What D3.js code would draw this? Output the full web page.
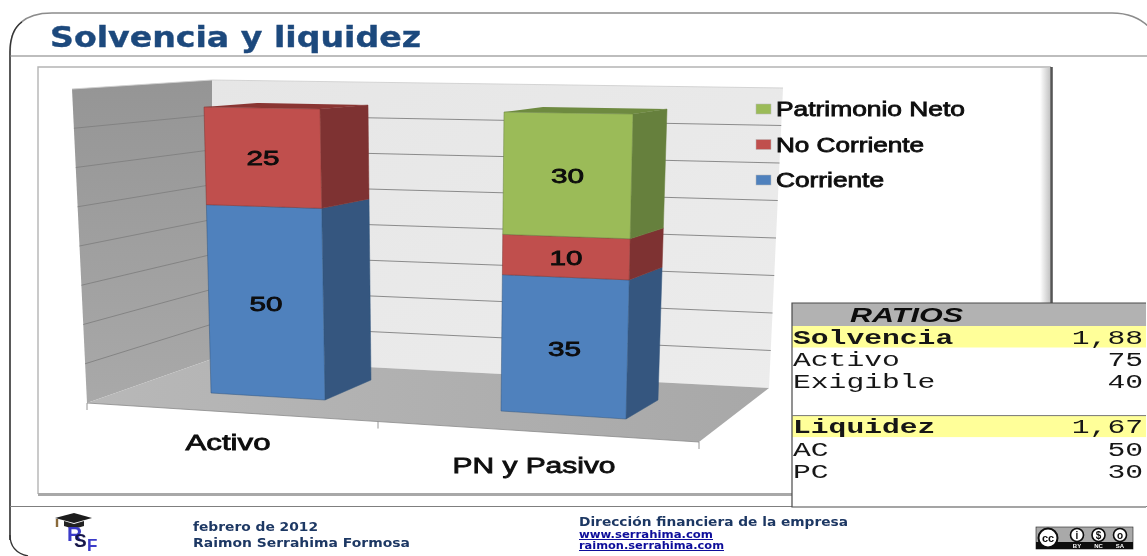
<!DOCTYPE html>
<html>
<head>
<meta charset="utf-8">
<style>
    html, body { margin: 0; padding: 0; background: #fff; }
    svg { display: block; }
</style>
<script src="https://cdn.jsdelivr.net/npm/d3@7"></script>
</head>
<body>
<script>
// values
const categories = ["Activo", "PN y Pasivo"];
const seriesNames = ["Corriente", "No Corriente", "Patrimonio Neto"];
const corriente = [50, 35];
const noCorriente = [25, 10];
const patrimonioNeto = [0, 30];
const axisTicks = [0, 10, 20, 30, 40, 50, 60, 70, 80];

const ratioLabels = ["Solvencia", "Activo", "Exigible", "", "Liquidez", "AC", "PC"];
const ratioValues = ["1,88", "75", "40", "", "1,67", "50", "30"];
const ratioHighlight = [true, false, false, false, true, false, false];

const footerLeft = ["febrero de 2012", "Raimon Serrahima Formosa"];
const footerRight = ["Dirección financiera de la empresa", "www.serrahima.com", "raimon.serrahima.com"];
const ccLabels = ["BY", "NC", "SA"];

const frontColors = ["#4f81bd", "#c0504d", "#9bbb59"];
const sideColors = ["#34577f", "#7e3331", "#66803c"];
const topColors = ["#34577f", "#8a3533", "#6e8a40"];

// perspective frame of each bar: the corner at value 0 and at the top of the stack
const barFrames = [
    {
        fl: [[211, 393], [204, 107]], fr: [[325, 400], [320, 109]],
        br: [[371, 380], [368, 105]], bl: [[262, 372], [257, 103]]
    },
    {
        fl: [[501, 411], [504, 112]], fr: [[626, 419], [633, 114]],
        br: [[658, 400], [667, 109]], bl: [[540, 392], [543, 107]]
    }
];
// chart walls: [bottom, top] of the three upright edges
const wallFront = [[87, 403], [72, 89]];
const wallBackLeft = [[212, 359], [212, 80]];
const wallBackRight = [[769, 388], [783, 88]];
const floorFrontRight = [699, 442];
const midTickX = 378;

const svg = d3.select("body").append("svg")
    .attr("width", 1147)
    .attr("height", 556)
    .style("background-color", "#ffffff")
    .style("font-family", "'Liberation Sans', Arial, sans-serif");

const defs = svg.append("defs");
function linearGrad(id, x1, y1, x2, y2, stops) {
    const g = defs.append("linearGradient").attr("id", id)
        .attr("x1", x1).attr("y1", y1).attr("x2", x2).attr("y2", y2);
    stops.forEach(s => g.append("stop").attr("offset", s[0]).attr("stop-color", s[1]));
}
linearGrad("wallLeft", 0, 0, 0, 1, [[0, "#959595"], [1, "#a9a9a9"]]);
linearGrad("wallBack", 0, 0, 1, 1, [[0, "#e6e6e6"], [1, "#ececec"]]);
linearGrad("floor", 0, 0, 1, 0, [[0, "#b8b8b8"], [1, "#a8a8a8"]]);
linearGrad("shadow", 0, 0, 1, 0, [[0, "#ffffff"], [1, "#c4c4c4"]]);
defs.append("filter").attr("id", "soft")
    .append("feGaussianBlur").attr("stdDeviation", 0.4);

const page = svg.append("g").attr("filter", "url(#soft)");

// slide frame
page.append("path")
    .attr("d", "M10,540 L10,52 Q10,13 52,13 L1112,13 Q1135,13 1149,27")
    .attr("fill", "none").attr("stroke", "#8c8c8c").attr("stroke-width", 1.6);
page.append("path")
    .attr("d", "M10,540 L10,52 Q10,30 22,22")
    .attr("fill", "none").attr("stroke", "#333333").attr("stroke-width", 1.3);
page.append("path")
    .attr("d", "M10,535 Q10,552 28,556")
    .attr("fill", "none").attr("stroke", "#333333").attr("stroke-width", 1.3);
page.selectAll("line.rule")
    .data([56, 506.5])
    .enter()
    .append("line")
    .attr("class", "rule")
    .attr("x1", 10).attr("x2", 1147)
    .attr("y1", d => d).attr("y2", d => d)
    .attr("stroke", "#7f7f7f").attr("stroke-width", 1.2);

page.append("text")
    .attr("x", 50).attr("y", 47)
    .attr("font-family", "'DejaVu Sans'")
    .attr("font-weight", "bold")
    .attr("font-size", 28)
    .attr("fill", "#1f497d")
    .attr("stroke", "#1f497d")
    .attr("stroke-width", 0.4)
    .attr("textLength", 371)
    .attr("lengthAdjust", "spacingAndGlyphs")
    .text("Solvencia y liquidez");

// chart panel
page.append("rect")
    .attr("x", 1040).attr("y", 68).attr("width", 10).attr("height", 426)
    .attr("fill", "url(#shadow)");
page.append("path")
    .attr("d", "M38,494 L38,67 L1051,67")
    .attr("fill", "none").attr("stroke", "#b4b4b4").attr("stroke-width", 1.4);
page.append("line")
    .attr("x1", 38).attr("x2", 1051).attr("y1", 494.5).attr("y2", 494.5)
    .attr("stroke", "#a8a8a8").attr("stroke-width", 3);
page.append("line")
    .attr("x1", 1051.5).attr("x2", 1051.5).attr("y1", 67).attr("y2", 304)
    .attr("stroke", "#555555").attr("stroke-width", 2.6);

// scale along one upright edge, from its corners
function edgeScale(edge, domain, exponent) {
    const sx = d3.scalePow().exponent(exponent).domain(domain).range([edge[0][0], edge[1][0]]);
    const sy = d3.scalePow().exponent(exponent).domain(domain).range([edge[0][1], edge[1][1]]);
    return v => [sx(v), sy(v)];
}
const poly = pts => pts.map(p => p.join(",")).join(" ");

// walls and floor
const wallDomain = d3.extent(axisTicks);
const onFront = edgeScale(wallFront, wallDomain, 1);
const onBackLeft = edgeScale(wallBackLeft, wallDomain, 1);
const onBackRight = edgeScale(wallBackRight, wallDomain, 1);

page.append("polygon")
    .attr("points", poly([onFront(0), onFront(80), onBackLeft(80), onBackLeft(0)]))
    .attr("fill", "url(#wallLeft)");
page.append("polygon")
    .attr("points", poly([onBackLeft(0), onBackLeft(80), onBackRight(80), onBackRight(0)]))
    .attr("fill", "url(#wallBack)");
page.append("polygon")
    .attr("points", poly([onFront(0), onBackLeft(0), onBackRight(0), floorFrontRight]))
    .attr("fill", "url(#floor)");

const gridTicks = axisTicks.slice(1);
page.selectAll("polyline.grid")
    .data(gridTicks)
    .enter()
    .append("polyline")
    .attr("class", "grid")
    .attr("points", d => poly([onFront(d), onBackLeft(d), onBackRight(d)]))
    .attr("fill", "none")
    .attr("stroke", d => d === 80 ? "#d0d0d0" : "#808080")
    .attr("stroke-width", 0.9);

// axis ticks under the front floor edge
const frontEdgeX = d3.scaleLinear().domain([0, 1, 2]).range([onFront(0)[0], midTickX, floorFrontRight[0]]);
const frontEdgeY = d3.scaleLinear().domain([onFront(0)[0], floorFrontRight[0]]).range([onFront(0)[1], floorFrontRight[1]]);
page.append("line")
    .attr("x1", frontEdgeX(0)).attr("y1", frontEdgeY(frontEdgeX(0)))
    .attr("x2", frontEdgeX(2)).attr("y2", frontEdgeY(frontEdgeX(2)))
    .attr("stroke", "#8a8a8a").attr("stroke-width", 0.8);
page.selectAll("line.tick")
    .data(d3.range(categories.length + 1))
    .enter()
    .append("line")
    .attr("class", "tick")
    .attr("x1", d => frontEdgeX(d)).attr("x2", d => frontEdgeX(d))
    .attr("y1", d => frontEdgeY(frontEdgeX(d))).attr("y2", d => frontEdgeY(frontEdgeX(d)) + 7)
    .attr("stroke", "#8a8a8a").attr("stroke-width", 0.9);

// stacked bars
const table = categories.map((c, i) => ({
    category: c,
    [seriesNames[0]]: corriente[i],
    [seriesNames[1]]: noCorriente[i],
    [seriesNames[2]]: patrimonioNeto[i]
}));
const stacked = d3.stack().keys(seriesNames)(table);
const stackMax = d3.max(stacked, s => d3.max(s, d => d[1]));

categories.forEach((c, i) => {
    const f = barFrames[i];
    const fl = edgeScale(f.fl, [0, stackMax], 1.03);
    const fr = edgeScale(f.fr, [0, stackMax], 1.03);
    const br = edgeScale(f.br, [0, stackMax], 1.03);
    const bl = edgeScale(f.bl, [0, stackMax], 1.03);
    const bar = page.append("g").attr("class", "bar");

    const parts = stacked
        .map((s, k) => ({ k: k, y0: s[i][0], y1: s[i][1] }))
        .filter(d => d.y1 > d.y0);

    bar.selectAll("polygon.side")
        .data(parts)
        .enter()
        .append("polygon")
        .attr("class", "side")
        .attr("points", d => poly([fr(d.y0), fr(d.y1), br(d.y1), br(d.y0)]))
        .attr("fill", d => sideColors[d.k])
        .attr("stroke", d => sideColors[d.k])
        .attr("stroke-width", 0.5);
    bar.selectAll("polygon.front")
        .data(parts)
        .enter()
        .append("polygon")
        .attr("class", "front")
        .attr("points", d => poly([fl(d.y0), fl(d.y1), fr(d.y1), fr(d.y0)]))
        .attr("fill", d => frontColors[d.k])
        .attr("stroke", d => sideColors[d.k])
        .attr("stroke-width", 0.5);

    const last = parts[parts.length - 1];
    bar.append("polygon")
        .attr("points", poly([fl(last.y1), bl(last.y1), br(last.y1), fr(last.y1)]))
        .attr("fill", topColors[last.k]);

    bar.selectAll("text")
        .data(parts)
        .enter()
        .append("text")
        .attr("x", d => (fl((d.y0 + d.y1) / 2)[0] + fr((d.y0 + d.y1) / 2)[0]) / 2)
        .attr("y", d => (fl((d.y0 + d.y1) / 2)[1] + fr((d.y0 + d.y1) / 2)[1]) / 2 + 8)
        .attr("text-anchor", "middle")
        .attr("font-size", 21)
        .attr("fill", "#0b0b0b")
        .attr("stroke", "#0b0b0b")
        .attr("stroke-width", 0.8)
        .attr("textLength", 33)
        .attr("lengthAdjust", "spacingAndGlyphs")
        .text(d => d.y1 - d.y0);
});

// category labels
const labelX = d3.scalePoint().domain(categories).range([228, 534]);
const labelY = d3.scaleLinear().domain([0, 1]).range([450, 473]);
const categoryWidths = [85, 163];
page.selectAll("text.category")
    .data(categories)
    .enter()
    .append("text")
    .attr("class", "category")
    .attr("x", d => labelX(d))
    .attr("y", (d, i) => labelY(i))
    .attr("text-anchor", "middle")
    .attr("font-size", 22)
    .attr("fill", "#0b0b0b")
    .attr("stroke", "#0b0b0b")
    .attr("stroke-width", 0.8)
    .attr("textLength", (d, i) => categoryWidths[i])
    .attr("lengthAdjust", "spacingAndGlyphs")
    .text(d => d);

// legend, top series first
const legendOrder = seriesNames.map((d, i) => i).reverse();
const legendY = d3.scalePoint().domain(legendOrder).range([109, 180]);
const legendWidths = [108, 148, 189];
const legend = page.selectAll("g.legend")
    .data(legendOrder)
    .enter()
    .append("g")
    .attr("class", "legend")
    .attr("transform", d => "translate(756," + legendY(d) + ")");
legend.append("rect")
    .attr("x", 0).attr("y", -5).attr("width", 15).attr("height", 10)
    .attr("fill", d => frontColors[d])
    .attr("stroke", "#b9b9b9").attr("stroke-width", 0.5);
legend.append("text")
    .attr("x", 20).attr("y", 7)
    .attr("font-size", 20)
    .attr("fill", "#0b0b0b")
    .attr("stroke", "#0b0b0b")
    .attr("stroke-width", 0.8)
    .attr("textLength", d => legendWidths[d])
    .attr("lengthAdjust", "spacingAndGlyphs")
    .text(d => seriesNames[d]);

// ratios table
const tableLeft = 792, tableRight = 1146, tableTop = 303, tableBottom = 507, headerBottom = 326;
const rowY = d3.scaleLinear().domain([0, 1]).range([headerBottom, headerBottom + 22.4]);
page.append("rect")
    .attr("x", tableLeft).attr("y", tableTop)
    .attr("width", tableRight - tableLeft).attr("height", tableBottom - tableTop)
    .attr("fill", "#ffffff");
page.append("rect")
    .attr("x", tableLeft).attr("y", tableTop)
    .attr("width", tableRight - tableLeft).attr("height", headerBottom - tableTop)
    .attr("fill", "#b2b2b2");
page.append("text")
    .attr("x", 906.5).attr("y", 322)
    .attr("text-anchor", "middle")
    .attr("font-size", 21)
    .attr("font-weight", "bold")
    .attr("font-style", "italic")
    .attr("fill", "#0b0b0b")
    .attr("textLength", 113)
    .attr("lengthAdjust", "spacingAndGlyphs")
    .text("RATIOS");

const rows = page.selectAll("g.row")
    .data(ratioLabels.map((d, i) => i))
    .enter()
    .append("g")
    .attr("class", "row")
    .attr("transform", d => "translate(0," + rowY(d) + ")");
rows.filter(d => ratioHighlight[d]).append("rect")
    .attr("x", tableLeft).attr("y", 0)
    .attr("width", tableRight - tableLeft).attr("height", 21.5)
    .attr("fill", "#ffff99");
const monoWidth = 17.8;
rows.filter(d => ratioLabels[d] !== "").append("text")
    .attr("x", tableLeft + 1).attr("y", 17.5)
    .attr("font-family", "'Liberation Mono', monospace")
    .attr("font-size", 20.5)
    .attr("font-weight", d => ratioHighlight[d] ? "bold" : "normal")
    .attr("fill", "#161616")
    .attr("textLength", d => ratioLabels[d].length * monoWidth)
    .attr("lengthAdjust", "spacingAndGlyphs")
    .text(d => ratioLabels[d]);
rows.filter(d => ratioValues[d] !== "").append("text")
    .attr("x", d => 1143 - ratioValues[d].length * monoWidth)
    .attr("y", 17.5)
    .attr("font-family", "'Liberation Mono', monospace")
    .attr("font-size", 20.5)
    .attr("fill", "#161616")
    .attr("textLength", d => ratioValues[d].length * monoWidth)
    .attr("lengthAdjust", "spacingAndGlyphs")
    .text(d => ratioValues[d]);
page.append("path")
    .attr("d", "M" + tableRight + "," + tableTop + " L" + tableLeft + "," + tableTop + " L" + tableLeft + "," + tableBottom + " L" + tableRight + "," + tableBottom)
    .attr("fill", "none").attr("stroke", "#4a4a4a").attr("stroke-width", 1.2);
page.append("line")
    .attr("x1", tableLeft).attr("x2", tableRight)
    .attr("y1", rowY(4)).attr("y2", rowY(4))
    .attr("stroke", "#777777").attr("stroke-width", 1);

// footer
const footerFont = "'DejaVu Sans'";
page.selectAll("text.footLeft")
    .data(footerLeft)
    .enter()
    .append("text")
    .attr("class", "footLeft")
    .attr("x", 193)
    .attr("y", (d, i) => 531 + i * 15.5)
    .attr("font-family", footerFont)
    .attr("font-weight", "bold")
    .attr("font-size", 11.5)
    .attr("fill", "#1f3864")
    .attr("textLength", (d, i) => [125, 217][i])
    .attr("lengthAdjust", "spacingAndGlyphs")
    .text(d => d);
page.selectAll("text.footRight")
    .data(footerRight)
    .enter()
    .append("text")
    .attr("class", "footRight")
    .attr("x", 579)
    .attr("y", (d, i) => [526, 538, 549][i])
    .attr("font-family", footerFont)
    .attr("font-weight", "bold")
    .attr("font-size", (d, i) => i === 0 ? 11.5 : 10)
    .attr("fill", (d, i) => i === 0 ? "#1f3864" : "#0a0a9a")
    .attr("text-decoration", (d, i) => i === 0 ? "none" : "underline")
    .attr("textLength", (d, i) => [269, 134, 145][i])
    .attr("lengthAdjust", "spacingAndGlyphs")
    .text(d => d);

// logo
const logo = page.append("g").attr("class", "logo");
logo.append("polygon")
    .attr("points", "55,518 74,513 92,518 74,523")
    .attr("fill", "#1c1c1c");
logo.append("path")
    .attr("d", "M64,521 L64,526 Q74,530 84,526 L84,521 L74,524 Z")
    .attr("fill", "#222222");
logo.append("line")
    .attr("x1", 57).attr("y1", 519).attr("x2", 57).attr("y2", 527)
    .attr("stroke", "#8a6a3a").attr("stroke-width", 2.4);
logo.append("text").attr("x", 67).attr("y", 541)
    .attr("font-size", 21).attr("font-weight", "bold").attr("fill", "#3a3ac8").text("R");
logo.append("text").attr("x", 74).attr("y", 547)
    .attr("font-size", 19).attr("font-weight", "bold").attr("fill", "#16164a").text("S");
logo.append("text").attr("x", 87).attr("y", 551)
    .attr("font-size", 17).attr("font-weight", "bold").attr("fill", "#3a3ac8").text("F");

// creative commons badge
const badge = page.append("g").attr("class", "badge");
badge.append("rect")
    .attr("x", 1036).attr("y", 527).attr("width", 97).attr("height", 22)
    .attr("fill", "#a9a9a9").attr("stroke", "#222222").attr("stroke-width", 0.6);
badge.append("rect")
    .attr("x", 1036).attr("y", 542).attr("width", 97).attr("height", 7)
    .attr("fill", "#0a0a0a");
badge.append("circle")
    .attr("cx", 1048).attr("cy", 538).attr("r", 9.5)
    .attr("fill", "#ffffff").attr("stroke", "#0a0a0a").attr("stroke-width", 2);
badge.append("text")
    .attr("x", 1048).attr("y", 542)
    .attr("text-anchor", "middle")
    .attr("font-size", 11).attr("font-weight", "bold")
    .attr("fill", "#0a0a0a")
    .text("cc");
const ccX = d3.scalePoint().domain(ccLabels).range([1077, 1120]);
badge.selectAll("circle.small")
    .data(ccLabels)
    .enter()
    .append("circle")
    .attr("class", "small")
    .attr("cx", d => ccX(d)).attr("cy", 535).attr("r", 6.5)
    .attr("fill", "#ffffff").attr("stroke", "#0a0a0a").attr("stroke-width", 1.6);
badge.selectAll("text.glyph")
    .data(["i", "$", "o"])
    .enter()
    .append("text")
    .attr("class", "glyph")
    .attr("x", (d, i) => ccX(ccLabels[i])).attr("y", 539)
    .attr("text-anchor", "middle")
    .attr("font-size", 10).attr("font-weight", "bold")
    .attr("fill", "#0a0a0a")
    .text(d => d);
badge.selectAll("text.small")
    .data(ccLabels)
    .enter()
    .append("text")
    .attr("class", "small")
    .attr("x", d => ccX(d)).attr("y", 548)
    .attr("text-anchor", "middle")
    .attr("font-size", 6).attr("font-weight", "bold")
    .attr("fill", "#ffffff")
    .text(d => d);
</script>
</body>
</html>
